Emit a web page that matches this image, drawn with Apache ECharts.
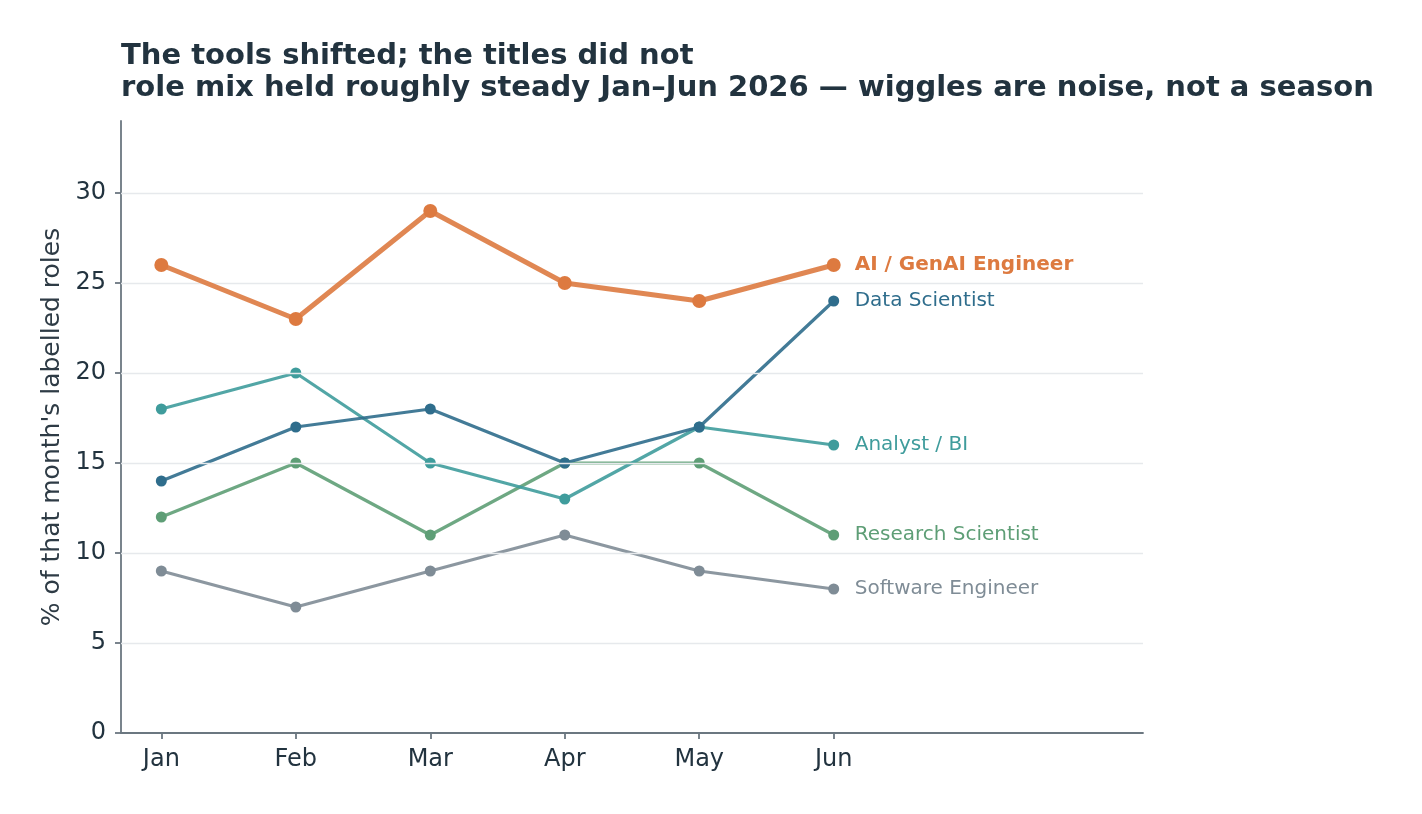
<!DOCTYPE html>
<html><head><meta charset="utf-8">
<script src="https://cdn.jsdelivr.net/npm/echarts@6/dist/echarts.min.js"></script>
<style>html,body{margin:0;padding:0;background:#fff}#c{width:1422px;height:814px}</style>
</head><body><div id="c"></div>
<script>
const months = ['Jan','Feb','Mar','Apr','May','Jun'];
const aiGenAI = [26,23,29,25,24,26];
const dataScientist = [14,17,18,15,17,24];
const analystBI = [18,20,15,13,17,16];
const researchScientist = [12,15,11,15,15,11];
const softwareEngineer = [9,7,9,11,9,8];
const yTicks = [0,5,10,15,20,25,30];

const seriesDefs = [
  {name:'Software Engineer', data:softwareEngineer, color:'#7f8c96', w:3.2, s:11, bold:false},
  {name:'Research Scientist', data:researchScientist, color:'#5e9e76', w:3.2, s:11, bold:false},
  {name:'Analyst / BI', data:analystBI, color:'#3f9c9c', w:3.2, s:11, bold:false},
  {name:'Data Scientist', data:dataScientist, color:'#2f6d8c', w:3.2, s:11, bold:false},
  {name:'AI / GenAI Engineer', data:aiGenAI, color:'#dd7a40', w:5, s:14, bold:true}
];

const chart = echarts.init(document.getElementById('c'), null, {renderer:'canvas'});
const F = 'DejaVu Sans';
chart.setOption({
  animation:false,
  backgroundColor:'#fff',
  textStyle:{fontFamily:F},
  title:{
    text:'The tools shifted; the titles did not\nrole mix held roughly steady Jan\u2013Jun 2026 \u2014 wiggles are noise, not a season',
    left:121, top:40, padding:0,
    textStyle:{fontFamily:F, fontSize:29, fontWeight:'bold', color:'#22333f', lineHeight:32}
  },
  grid:{left:121, right:279, top:121, bottom:81, containLabel:false},
  xAxis:{
    type:'value', min:-0.3, max:7.3,
    splitLine:{show:false},
    axisLine:{show:true, onZero:false, lineStyle:{color:'#6b7780', width:1.8}},
    axisTick:{show:true, customValues:[0,1,2,3,4,5], length:6, lineStyle:{color:'#6b7780', width:1.8}},
    axisLabel:{customValues:[0,1,2,3,4,5], formatter:v=>months[Math.round(v)]||'', fontSize:24, color:'#22333f', margin:15, fontFamily:F}
  },
  yAxis:{
    type:'value', min:0, max:34,
    name:"% of that month's labelled roles", nameLocation:'middle', nameGap:56,
    nameTextStyle:{fontSize:25, color:'#2e3b45', fontFamily:F},
    axisLine:{show:true, onZero:false, lineStyle:{color:'#6b7780', width:1.8}},
    axisTick:{show:true, customValues:yTicks, length:6, lineStyle:{color:'#6b7780', width:1.8}},
    axisLabel:{customValues:yTicks, fontSize:24, color:'#22333f', margin:15, fontFamily:F},
    splitLine:{show:false}
  },
  series:[
    {type:'line', silent:true, data:[], markLine:{silent:true, symbol:'none', label:{show:false},
      lineStyle:{color:'#e6e9ec', width:1.3, type:'solid'},
      data:[5,10,15,20,25,30].map(v=>({yAxis:v}))}, z:0}
  ].concat(seriesDefs.map(d=>({
    name:d.name, type:'line', z: d.bold?5:3,
    data:d.data.map((v,i)=>[i,v]),
    symbol:'circle', symbolSize:d.s,
    lineStyle:{color:d.color, width:d.w, opacity:0.9},
    itemStyle:{color:d.color},
    endLabel:{show:true, formatter:d.name, distance:21, color:d.color,
      fontSize:20, fontWeight:d.bold?'bold':'normal', fontFamily:F}
  })))
});
</script></body></html>
